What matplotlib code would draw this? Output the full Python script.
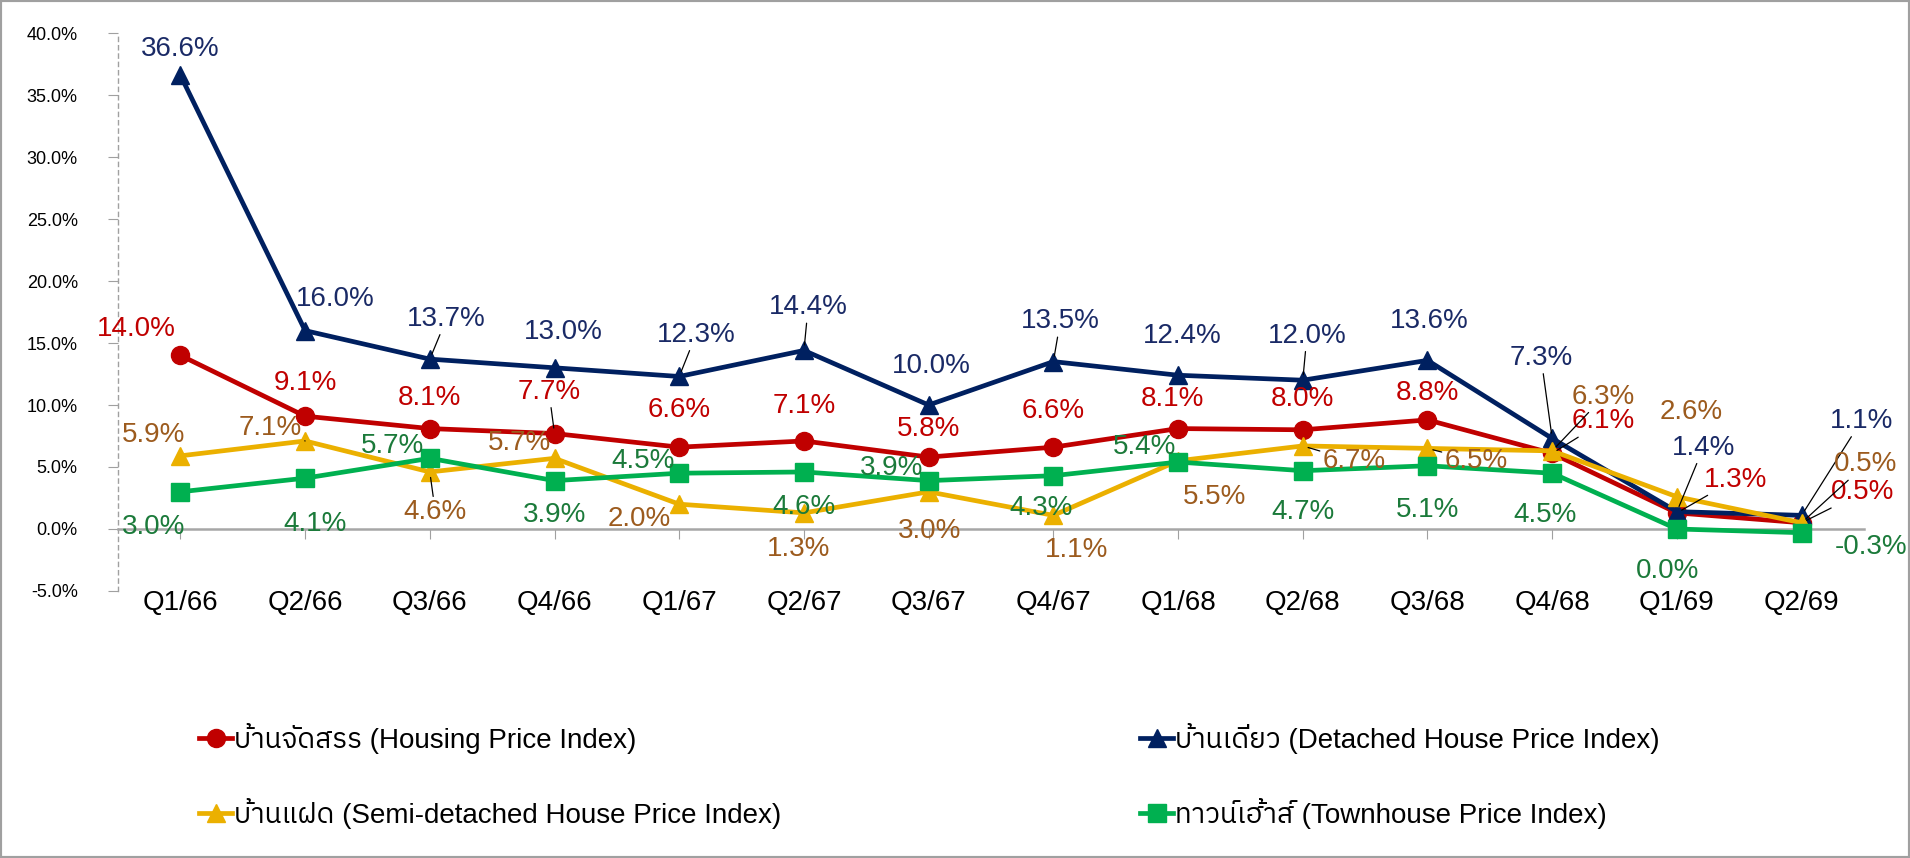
import matplotlib
matplotlib.use("Agg")
import matplotlib.pyplot as plt
from matplotlib import font_manager
from matplotlib.ft2font import FT2Font
from matplotlib.patches import Rectangle

quarters = ["Q1/66", "Q2/66", "Q3/66", "Q4/66", "Q1/67", "Q2/67", "Q3/67",
            "Q4/67", "Q1/68", "Q2/68", "Q3/68", "Q4/68", "Q1/69", "Q2/69"]
housing = [14.0, 9.1, 8.1, 7.7, 6.6, 7.1, 5.8, 6.6, 8.1, 8.0, 8.8, 6.1, 1.3, 0.5]
detached = [36.6, 16.0, 13.7, 13.0, 12.3, 14.4, 10.0, 13.5, 12.4, 12.0, 13.6, 7.3, 1.4, 1.1]
semi = [5.9, 7.1, 4.6, 5.7, 2.0, 1.3, 3.0, 1.1, 5.5, 6.7, 6.5, 6.3, 2.6, 0.5]
townhouse = [3.0, 4.1, 5.7, 3.9, 4.5, 4.6, 3.9, 4.3, 5.4, 4.7, 5.1, 4.5, 0.0, -0.3]

names = {
    "housing": "บ้านจัดสรร (Housing Price Index)",
    "detached": "บ้านเดี่ยว (Detached House Price Index)",
    "semi": "บ้านแฝด (Semi-detached House Price Index)",
    "townhouse": "ทาวน์เฮ้าส์ (Townhouse Price Index)",
}

# label offsets in points (dx, dy) and whether a leader line is drawn
off_detached = [(0, 19), (22, 23), (12, 29), (6, 26), (12, 30), (3, 31), (2, 28),
                (5, 29), (3, 28), (3, 32), (1, 28), (-8, 58), (19, 46), (43, 68)]
lead_detached = [0, 0, 1, 0, 1, 1, 0, 1, 0, 1, 0, 1, 1, 1]
off_housing = [(-32, 19), (0, 24), (0, 22), (-4, 30), (0, 27), (0, 25), (0, 20),
               (0, 26), (-4, 21), (0, 22), (0, 19), (37, 23), (42, 24), (44, 22)]
lead_housing = [0, 0, 0, 1, 0, 0, 0, 0, 0, 0, 0, 1, 1, 1]
off_semi = [(-19, 15), (-25, 9), (4, -29), (-25, 11), (-29, -11), (-4, -26), (1, -28),
            (17, -25), (26, -26), (37, -11), (35, -9), (37, 39), (10, 61), (46, 42)]
lead_semi = [0, 1, 1, 0, 0, 0, 0, 0, 0, 1, 1, 1, 0, 1]
off_town = [(-19, -25), (7, -33), (-27, 9), (0, -25), (-26, 9), (0, -25), (-27, 9),
            (-9, -23), (-24, 11), (0, -30), (0, -32), (-5, -30), (-7, -30), (50, -10)]
lead_town = [0] * 14


def find_thai_font():
    best = None
    for f in font_manager.fontManager.ttflist:
        try:
            if 0x0E1A not in FT2Font(f.fname).get_charmap():
                continue
        except Exception:
            continue
        if "Sans" in f.name or "Tahoma" in f.name or "Thai" in f.name:
            return f.name
        best = best or f.name
    return best


thai = find_thai_font()
fam = ["Liberation Sans"] + ([thai] if thai else []) + ["DejaVu Sans"]
plt.rcParams["font.family"] = fam

fig = plt.figure(figsize=(19.1, 8.58), dpi=100)
ax = fig.add_axes([0.0618, 0.3112, 0.9141, 0.6503])

series = [
    ("housing", housing, "#C00000", "#C00000", "o", off_housing, lead_housing),
    ("detached", detached, "#002060", "#1A2A66", "^", off_detached, lead_detached),
    ("semi", semi, "#EBB000", "#9C5B1E", "^", off_semi, lead_semi),
    ("townhouse", townhouse, "#00B050", "#1B7A3A", "s", off_town, lead_town),
]

x = list(range(len(quarters)))
handles = {}
for key, vals, col, tcol, mk, offs, leads in series:
    ln, = ax.plot(x, vals, color=col, lw=3.4, marker=mk, ms=13, zorder=3,
                  label=names[key])
    handles[key] = ln
    for i, v in enumerate(vals):
        kw = {}
        if leads[i]:
            kw["arrowprops"] = dict(arrowstyle="-", color="black", lw=0.9,
                                    shrinkA=0, shrinkB=4)
        ax.annotate(f"{v:.1f}%", (i, v), xytext=offs[i], textcoords="offset points",
                    ha="center", va="center", fontsize=20, color=tcol, zorder=4, **kw)

ax.set_xlim(-0.5, 13.5)
ax.set_ylim(-5, 40)
ax.set_yticks(range(-5, 41, 5))
ax.set_yticklabels([f"{v:.1f}%" for v in range(-5, 41, 5)])
ax.set_xticks(x)
ax.set_xticklabels(quarters)
ax.tick_params(axis="y", labelsize=13, length=7, color="#A0A0A0", pad=22)
ax.tick_params(axis="x", labelsize=20, length=7, color="#A0A0A0", pad=37)

for s in ["top", "right"]:
    ax.spines[s].set_visible(False)
ax.spines["bottom"].set_position(("data", 0))
ax.spines["bottom"].set_color("#A6A6A6")
ax.spines["bottom"].set_linewidth(1.8)
ax.spines["left"].set_color("#A0A0A0")
ax.spines["left"].set_linestyle((0, (3, 3)))
ax.spines["left"].set_linewidth(1)

leg_kw = dict(frameon=False, fontsize=20, handlelength=1.2, handletextpad=0.05,
              labelspacing=1.59, borderpad=0, borderaxespad=0)
fig.legend([handles["housing"], handles["semi"]],
           [names["housing"], names["semi"]],
           loc="center left", bbox_to_anchor=(199 / 1910, 1 - 776 / 858), **leg_kw)
fig.legend([handles["detached"], handles["townhouse"]],
           [names["detached"], names["townhouse"]],
           loc="center left", bbox_to_anchor=(1140 / 1910, 1 - 776 / 858), **leg_kw)

fig.patches.append(Rectangle((0, 0), 1, 1, transform=fig.transFigure, fill=False,
                             edgecolor="#A0A0A0", lw=3))

fig.savefig("out.png", dpi=100)
